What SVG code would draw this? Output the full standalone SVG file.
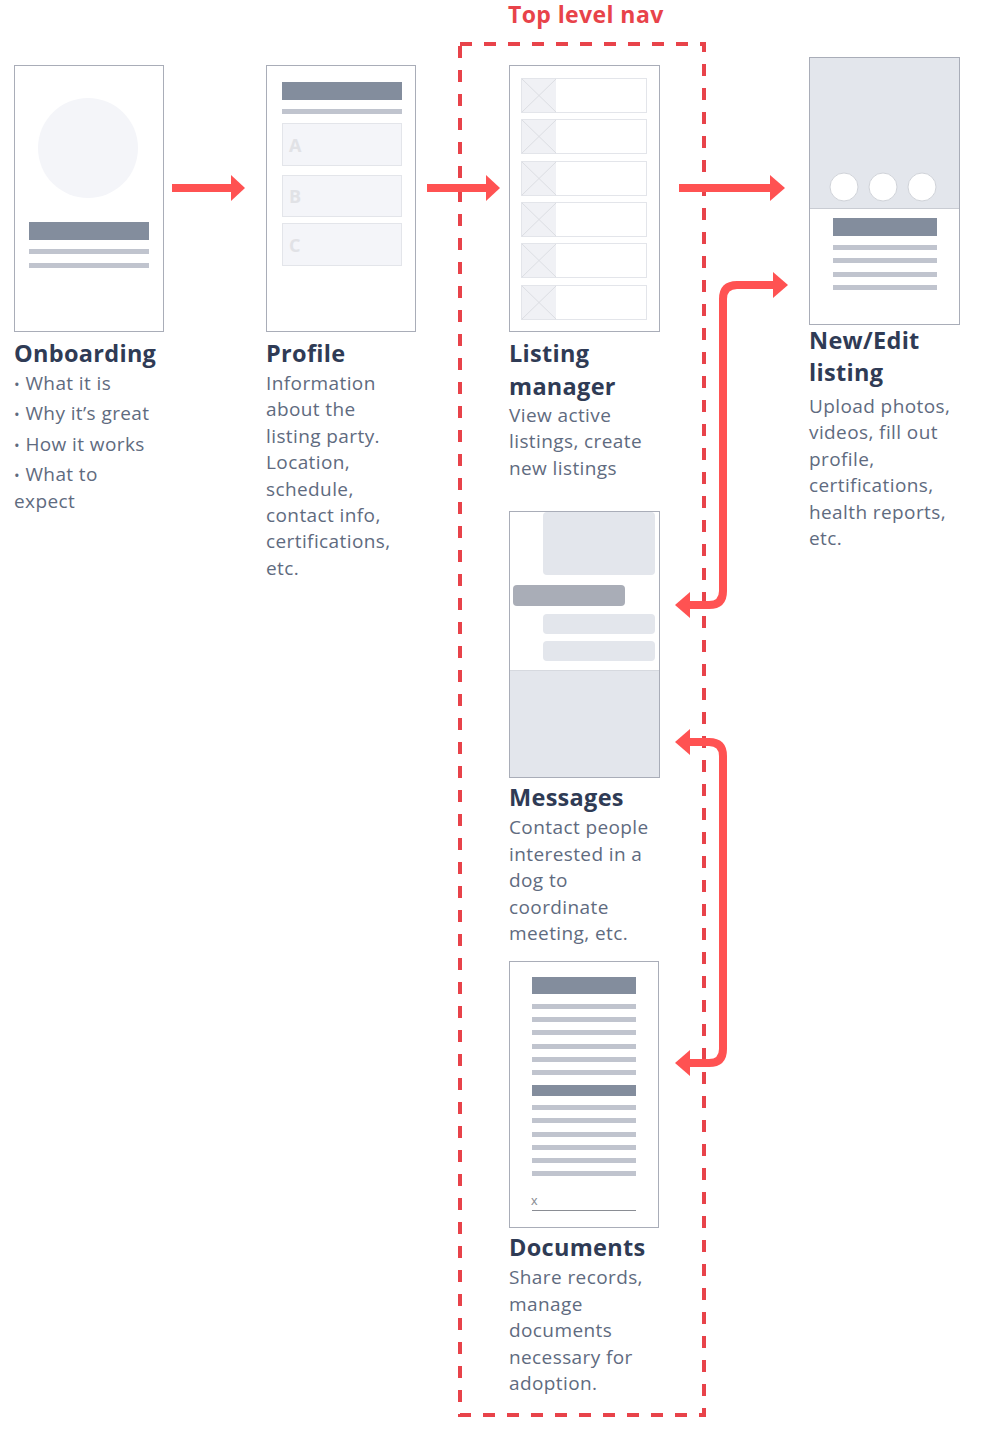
<svg xmlns="http://www.w3.org/2000/svg" width="992" height="1438" viewBox="0 0 992 1438">
  <defs>
    <style>
      .card { fill: #ffffff; stroke: #a9adb8; stroke-width: 1; }
      .dark { fill: #838d9d; }
      .light { fill: #c0c4ce; }
      .soft { fill: #e3e6ec; }
      .row { fill: #ffffff; stroke: #e3e5ea; stroke-width: 1; }
      .thumb { fill: #f0f1f5; }
      .xline { stroke: #dcdee3; stroke-width: 1; }
      .title { font-family: "Open Sans", Lato, sans-serif; font-weight: 700; font-size: 23.5px; letter-spacing: 0.3px; fill: #2f3b55; }
      .body { font-family: "Open Sans", Lato, sans-serif; font-size: 19px; letter-spacing: 0.4px; fill: #5f6b80; }
      .dot { font-size: 15px; }
      .nav { fill: none; stroke: #e8434a; stroke-width: 4; stroke-dasharray: 12 12; }
      .conn { fill: none; stroke: #ff5252; stroke-width: 8; }
      .head { fill: #ff5252; }
      .letter { font-family: "Open Sans", Lato, sans-serif; font-weight: 700; font-size: 18px; fill: #e1e2e6; }
    </style>
  </defs>

  <rect width="992" height="1438" fill="#ffffff"/>

  <!-- top level navigation frame -->
  <g id="top-nav">
    <rect class="nav" x="460" y="44" width="244" height="1371"/>
    <text x="508" y="23" font-family="'Open Sans', Lato, sans-serif" font-weight="700" font-size="23" letter-spacing="0.4" fill="#e8434a">Top level nav</text>
  </g>

  <!-- Onboarding -->
  <g id="onboarding">
    <rect class="card" x="14.5" y="65.5" width="149" height="266"/>
    <circle cx="88" cy="148" r="50" fill="#f4f5f9"/>
    <rect class="dark" x="29" y="222" width="120" height="18"/>
    <rect class="light" x="29" y="249" width="120" height="5"/>
    <rect class="light" x="29" y="263" width="120" height="5"/>
    <text class="title" x="14" y="362">Onboarding</text>
    <text class="body" x="14" y="390"><tspan class="dot">•</tspan> What it is</text>
    <text class="body" x="14" y="420"><tspan class="dot">•</tspan> Why it’s great</text>
    <text class="body" x="14" y="451"><tspan class="dot">•</tspan> How it works</text>
    <text class="body" x="14" y="481"><tspan class="dot">•</tspan> What to</text>
    <text class="body" x="14" y="508">expect</text>
  </g>

  <!-- Profile -->
  <g id="profile">
    <rect class="card" x="266.5" y="65.5" width="149" height="266"/>
    <rect class="dark" x="282" y="82" width="120" height="18"/>
    <rect class="light" x="282" y="109" width="120" height="5"/>
    <rect x="282.5" y="123.5" width="119" height="42" fill="#f4f5f9" stroke="#e3e5ea"/>
    <rect x="282.5" y="175.5" width="119" height="41" fill="#f4f5f9" stroke="#e3e5ea"/>
    <rect x="282.5" y="223.5" width="119" height="42" fill="#f4f5f9" stroke="#e3e5ea"/>
    <text class="letter" x="289" y="152">A</text>
    <text class="letter" x="289" y="203">B</text>
    <text class="letter" x="289" y="252">C</text>
    <text class="title" x="266" y="362">Profile</text>
    <text class="body" x="266" y="390">Information</text>
    <text class="body" x="266" y="416">about the</text>
    <text class="body" x="266" y="443">listing party.</text>
    <text class="body" x="266" y="469">Location,</text>
    <text class="body" x="266" y="496">schedule,</text>
    <text class="body" x="266" y="522">contact info,</text>
    <text class="body" x="266" y="548">certifications,</text>
    <text class="body" x="266" y="575">etc.</text>
  </g>

  <!-- Listing manager -->
  <g id="listing-manager">
    <rect class="card" x="509.5" y="65.5" width="150" height="266"/>
    <g id="listing-rows">
      <g transform="translate(0,0)">
        <rect class="row" x="521.5" y="78.5" width="125" height="34"/>
        <rect class="thumb" x="522" y="79" width="34" height="33"/>
        <path class="xline" d="M522 79 L556 112 M556 79 L522 112"/>
      </g>
      <g transform="translate(0,41)">
        <rect class="row" x="521.5" y="78.5" width="125" height="34"/>
        <rect class="thumb" x="522" y="79" width="34" height="33"/>
        <path class="xline" d="M522 79 L556 112 M556 79 L522 112"/>
      </g>
      <g transform="translate(0,83)">
        <rect class="row" x="521.5" y="78.5" width="125" height="34"/>
        <rect class="thumb" x="522" y="79" width="34" height="33"/>
        <path class="xline" d="M522 79 L556 112 M556 79 L522 112"/>
      </g>
      <g transform="translate(0,124)">
        <rect class="row" x="521.5" y="78.5" width="125" height="34"/>
        <rect class="thumb" x="522" y="79" width="34" height="33"/>
        <path class="xline" d="M522 79 L556 112 M556 79 L522 112"/>
      </g>
      <g transform="translate(0,165)">
        <rect class="row" x="521.5" y="78.5" width="125" height="34"/>
        <rect class="thumb" x="522" y="79" width="34" height="33"/>
        <path class="xline" d="M522 79 L556 112 M556 79 L522 112"/>
      </g>
      <g transform="translate(0,207)">
        <rect class="row" x="521.5" y="78.5" width="125" height="34"/>
        <rect class="thumb" x="522" y="79" width="34" height="33"/>
        <path class="xline" d="M522 79 L556 112 M556 79 L522 112"/>
      </g>
    </g>
    <text class="title" x="509" y="362">Listing</text>
    <text class="title" x="509" y="395">manager</text>
    <text class="body" x="509" y="422">View active</text>
    <text class="body" x="509" y="448">listings, create</text>
    <text class="body" x="509" y="475">new listings</text>
  </g>

  <!-- New/Edit listing -->
  <g id="new-edit-listing">
    <rect class="card" x="809.5" y="57.5" width="150" height="267"/>
    <rect class="soft" x="810" y="58" width="149" height="150"/>
    <line x1="810" y1="208.5" x2="959" y2="208.5" stroke="#c9ccd3"/>
    <circle cx="844" cy="187" r="14" fill="#ffffff" stroke="#d0d3d9"/>
    <circle cx="883" cy="187" r="14" fill="#ffffff" stroke="#d0d3d9"/>
    <circle cx="922" cy="187" r="14" fill="#ffffff" stroke="#d0d3d9"/>
    <rect class="dark" x="833" y="218" width="104" height="18"/>
    <rect class="light" x="833" y="245" width="104" height="5"/>
    <rect class="light" x="833" y="258" width="104" height="5"/>
    <rect class="light" x="833" y="272" width="104" height="5"/>
    <rect class="light" x="833" y="285" width="104" height="5"/>
    <text class="title" x="809" y="349">New/Edit</text>
    <text class="title" x="809" y="381">listing</text>
    <text class="body" x="809" y="413">Upload photos,</text>
    <text class="body" x="809" y="439">videos, fill out</text>
    <text class="body" x="809" y="466">profile,</text>
    <text class="body" x="809" y="492">certifications,</text>
    <text class="body" x="809" y="519">health reports,</text>
    <text class="body" x="809" y="545">etc.</text>
  </g>

  <!-- Messages -->
  <g id="messages">
    <rect class="card" x="509.5" y="511.5" width="150" height="266"/>
    <rect class="soft" x="543" y="512" width="112" height="63" rx="4"/>
    <rect x="513" y="585" width="112" height="21" rx="4" fill="#a9adb7"/>
    <rect class="soft" x="543" y="614" width="112" height="20" rx="4"/>
    <rect class="soft" x="543" y="641" width="112" height="20" rx="4"/>
    <rect class="soft" x="510" y="670" width="149" height="107"/>
    <line x1="510" y1="670.5" x2="659" y2="670.5" stroke="#d6d9df"/>
    <text class="title" x="509" y="806">Messages</text>
    <text class="body" x="509" y="834">Contact people</text>
    <text class="body" x="509" y="861">interested in a</text>
    <text class="body" x="509" y="887">dog to</text>
    <text class="body" x="509" y="914">coordinate</text>
    <text class="body" x="509" y="940">meeting, etc.</text>
  </g>

  <!-- Documents -->
  <g id="documents">
    <rect class="card" x="509.5" y="961.5" width="149" height="266"/>
    <rect class="dark" x="532" y="977" width="104" height="17"/>
    <rect class="light" x="532" y="1004" width="104" height="5"/>
    <rect class="light" x="532" y="1017" width="104" height="5"/>
    <rect class="light" x="532" y="1030" width="104" height="5"/>
    <rect class="light" x="532" y="1044" width="104" height="5"/>
    <rect class="light" x="532" y="1057" width="104" height="5"/>
    <rect class="light" x="532" y="1070" width="104" height="5"/>
    <rect class="dark" x="532" y="1085" width="104" height="11"/>
    <rect class="light" x="532" y="1105" width="104" height="5"/>
    <rect class="light" x="532" y="1118" width="104" height="5"/>
    <rect class="light" x="532" y="1132" width="104" height="5"/>
    <rect class="light" x="532" y="1145" width="104" height="5"/>
    <rect class="light" x="532" y="1158" width="104" height="5"/>
    <rect class="light" x="532" y="1171" width="104" height="5"/>
    <text x="531" y="1205" font-family="'Liberation Sans', sans-serif" font-size="13" fill="#8a8d94">x</text>
    <line x1="532" y1="1210.5" x2="636" y2="1210.5" stroke="#8a8d94" stroke-width="1"/>
    <text class="title" x="509" y="1256">Documents</text>
    <text class="body" x="509" y="1284">Share records,</text>
    <text class="body" x="509" y="1311">manage</text>
    <text class="body" x="509" y="1337">documents</text>
    <text class="body" x="509" y="1364">necessary for</text>
    <text class="body" x="509" y="1390">adoption.</text>
  </g>

  <!-- connectors -->
  <g id="connectors">
    <!-- onboarding to profile -->
    <line class="conn" x1="172" y1="188" x2="233" y2="188"/>
    <path class="head" d="M231 175 L245 188 L231 201 Z"/>
    <!-- profile to listing manager -->
    <line class="conn" x1="427" y1="188" x2="488" y2="188"/>
    <path class="head" d="M486 175 L500 188 L486 201 Z"/>
    <!-- listing manager to new/edit listing -->
    <line class="conn" x1="679" y1="188" x2="772" y2="188"/>
    <path class="head" d="M770 175 L785 188 L770 201 Z"/>
    <!-- messages to new/edit listing -->
    <path class="conn" d="M688 605 H709 Q723 605 723 591 V299 Q723 285 737 285 H775"/>
    <path class="head" d="M773 272 L788 285 L773 298 Z"/>
    <path class="head" d="M690 592 L675 605 L690 618 Z"/>
    <!-- messages to documents -->
    <path class="conn" d="M688 742 H709 Q723 742 723 756 V1049 Q723 1063 709 1063 H688"/>
    <path class="head" d="M690 729 L675 742 L690 755 Z"/>
    <path class="head" d="M690 1050 L675 1063 L690 1076 Z"/>
  </g>
</svg>
